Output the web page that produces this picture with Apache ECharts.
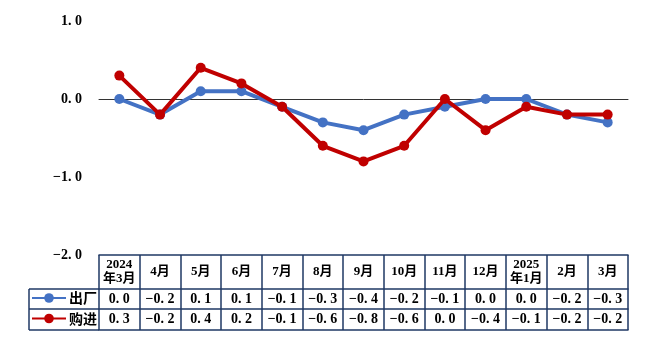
<!DOCTYPE html>
<html><head><meta charset="utf-8">
<script src="https://cdn.jsdelivr.net/npm/echarts@6/dist/echarts.min.js"></script>
<style>html,body{margin:0;padding:0;background:#fff}#c{width:668px;height:362px}</style>
</head><body><div id="c"></div>
<script>
const categories = ['2024\n年3月','4月','5月','6月','7月','8月','9月','10月','11月','12月','2025\n年1月','2月','3月'];
const chuchang = [0.0,-0.2,0.1,0.1,-0.1,-0.3,-0.4,-0.2,-0.1,0.0,0.0,-0.2,-0.3];
const goujin = [0.3,-0.2,0.4,0.2,-0.1,-0.6,-0.8,-0.6,0.0,-0.4,-0.1,-0.2,-0.2];
const seriesNames = ['出厂','购进'];
const yMin = -2, yMax = 1, yInterval = 1;

const NUM_FONT = '"Liberation Serif","Noto Sans CJK SC",serif';
const BORDER = '#1F3864';
const fmt = v => (v < 0 ? '\u2212' : '') + Math.abs(v).toFixed(1).replace('.', '. ');

const GL = 99, GR = 40, GT = 21, GB = 107;
const rowH = [34, 20, 21];
const tableTop = 362 - GB;

const chart = echarts.init(document.getElementById('c'));
const rowAxis = (vals, offset, h, showLabel) => ({
  type: 'category', data: vals.map(fmt), position: 'bottom', offset: offset,
  boundaryGap: true,
  axisLine: {show: true, onZero: false, lineStyle: {color: BORDER, width: 1.5}},
  axisTick: {show: false},
  axisLabel: {show: showLabel, interval: 0, margin: h / 2, verticalAlign: 'middle',
    fontFamily: NUM_FONT, fontWeight: 'bold', fontSize: 14, color: '#000'}
});
const legendOf = (name, top) => ({
  orient: 'vertical', left: 31, top: top, padding: 0,
  itemWidth: 34, itemHeight: 12,
  data: [name],
  textStyle: {fontFamily: '"Noto Sans CJK SC",sans-serif', fontWeight: 'bold', fontSize: 14, lineHeight: 14, color: '#000', padding: [0,0,0,-2]}
});

chart.setOption({
  animation: false,
  backgroundColor: '#fff',
  grid: {left: GL, right: GR, top: GT, bottom: GB},
  legend: [
    legendOf(seriesNames[0], tableTop + rowH[0] + rowH[1] / 2 - 8),
    legendOf(seriesNames[1], tableTop + rowH[0] + rowH[1] + rowH[2] / 2 - 8)
  ],
  xAxis: [
    {type: 'category', data: categories, boundaryGap: true,
     axisLine: {show: true, onZero: true, lineStyle: {color: '#333', width: 1}},
     axisTick: {show: false}, axisLabel: {show: false}},
    {type: 'category', data: categories, position: 'bottom', offset: 0, boundaryGap: true,
     axisLine: {show: true, onZero: false, lineStyle: {color: BORDER, width: 1.5}},
     axisTick: {show: true, interval: 0, length: rowH[0] + rowH[1] + rowH[2], lineStyle: {color: BORDER, width: 1.5}},
     axisLabel: {interval: 0, margin: rowH[0] / 2, verticalAlign: 'middle', lineHeight: 14,
       fontFamily: NUM_FONT, fontWeight: 'bold', fontSize: 13, color: '#000'}},
    rowAxis(chuchang, rowH[0], rowH[1], true),
    rowAxis(goujin, rowH[0] + rowH[1], rowH[2], true),
    rowAxis(goujin, rowH[0] + rowH[1] + rowH[2], 0, false)
  ],
  yAxis: {
    type: 'value', min: yMin, max: yMax, interval: yInterval,
    axisLine: {show: false}, axisTick: {show: false}, splitLine: {show: false},
    axisLabel: {margin: 17, fontFamily: NUM_FONT, fontWeight: 'bold', fontSize: 14, color: '#000',
      formatter: v => fmt(v)}
  },
  graphic: [
    {type: 'line', shape: {x1: 29, y1: tableTop + rowH[0], x2: GL, y2: tableTop + rowH[0]}, style: {stroke: BORDER, lineWidth: 1.5}},
    {type: 'line', shape: {x1: 29, y1: tableTop + rowH[0] + rowH[1], x2: GL, y2: tableTop + rowH[0] + rowH[1]}, style: {stroke: BORDER, lineWidth: 1.5}},
    {type: 'line', shape: {x1: 29, y1: tableTop + rowH[0] + rowH[1] + rowH[2], x2: GL, y2: tableTop + rowH[0] + rowH[1] + rowH[2]}, style: {stroke: BORDER, lineWidth: 1.5}},
    {type: 'line', shape: {x1: 29, y1: tableTop + rowH[0], x2: 29, y2: tableTop + rowH[0] + rowH[1] + rowH[2]}, style: {stroke: BORDER, lineWidth: 1.5}}
  ],
  series: [
    {name: seriesNames[0], type: 'line', data: chuchang, symbol: 'circle', symbolSize: 10,
     itemStyle: {color: '#4472C4'}, lineStyle: {color: '#4472C4', width: 4}, z: 3},
    {name: seriesNames[1], type: 'line', data: goujin, symbol: 'circle', symbolSize: 10,
     itemStyle: {color: '#C00000'}, lineStyle: {color: '#C00000', width: 4}, z: 4}
  ]
});
</script></body></html>
